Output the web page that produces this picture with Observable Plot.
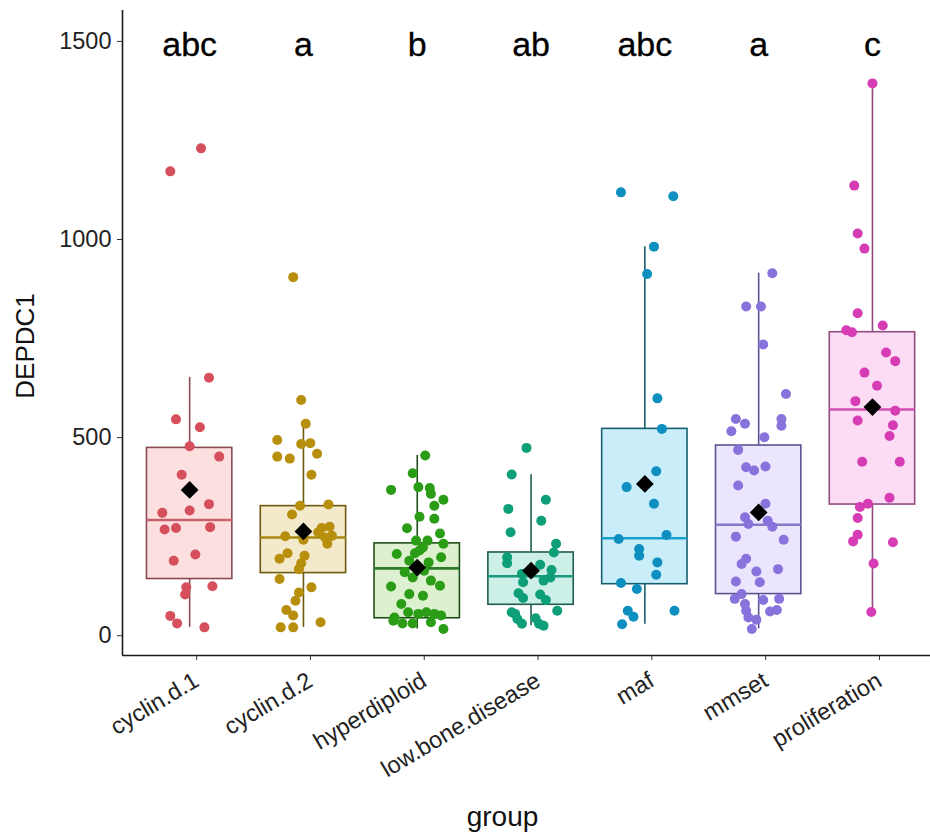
<!DOCTYPE html>
<html>
<head>
<meta charset="utf-8">
<script src="https://cdn.jsdelivr.net/npm/d3@7"></script>
<script src="https://cdn.jsdelivr.net/npm/@observablehq/plot@0.6"></script>
<style>
  html, body { margin: 0; padding: 0; background: #fff; }
  #chart { width: 930px; height: 839px; }
</style>
</head>
<body>
<div id="chart"></div>
<script>
const groups = ["cyclin.d.1", "cyclin.d.2", "hyperdiploid", "low.bone.disease", "maf", "mmset", "proliferation"];
const letters = ["abc", "a", "b", "ab", "abc", "a", "c"];
const yTicks = [0, 500, 1000, 1500];

// box statistics per group
const q1 = [143, 158, 44, 78, 130, 105, 331];
const median = [292, 248, 170, 150, 246, 280, 571];
const q3 = [474, 327, 233, 210, 522, 480, 766];
const whiskerLow = [21, 21, 17, 25, 29, 17, 60];
const whiskerHigh = [652, 535, 455, 406, 982, 915, 1394];
const means = [368, 263, 172, 164, 383, 311, 577];

const valuesCyclinD1 = [651, 546, 526, 478, 452, 406, 332, 316, 310, 268, 272, 274, 189, 205, 122, 104, 125, 50, 31, 21, 1172, 1230];
const jitterCyclinD1 = [0.17, -0.12, 0.09, 0, 0.26, -0.07, 0.17, 0, -0.24, -0.22, -0.12, 0.18, -0.14, 0.05, -0.03, -0.04, 0.2, -0.17, -0.11, 0.13, -0.17, 0.1];

const valuesCyclinD2 = [595, 535, 494, 484, 486, 459, 452, 447, 406, 328, 331, 306, 272, 275, 248, 232, 251, 242, 208, 194, 202, 183, 168, 143, 122, 109, 88, 65, 51, 34, 21, 21, 261, 252, 905];
const jitterCyclinD2 = [-0.02, 0.02, -0.23, -0.02, 0.06, 0.12, -0.23, -0.12, 0.07, -0.03, 0.22, -0.1, 0.16, 0.23, 0.19, 0.21, -0.16, 0, -0.14, -0.21, 0.01, -0.02, -0.04, -0.21, 0.07, -0.04, -0.07, -0.15, -0.09, 0.15, -0.2, -0.09, 0.13, 0.25, -0.09];

const valuesHyperdiploid = [455, 410, 368, 375, 373, 358, 343, 328, 295, 300, 271, 258, 232, 240, 240, 206, 215, 198, 189, 185, 160, 164, 139, 126, 124, 105, 101, 80, 59, 55, 59, 55, 51, 38, 31, 31, 34, 17, 46, 208, 223, 147];
const jitterHyperdiploid = [0.07, -0.04, -0.23, 0.01, 0.11, 0.12, 0.23, 0.15, 0.15, 0.02, -0.09, 0.2, 0.23, -0.01, 0.09, -0.18, 0.02, 0.21, -0.07, 0.1, -0.11, 0.06, 0.12, 0.2, -0.23, -0.07, 0.05, -0.14, -0.08, 0.01, 0.08, 0.15, 0.21, -0.21, -0.13, -0.04, 0.12, 0.23, -0.2, -0.02, 0.05, -0.04];

const valuesLowBone = [474, 407, 343, 320, 290, 261, 232, 210, 198, 183, 179, 166, 147, 156, 135, 139, 107, 95, 104, 90, 63, 59, 42, 30, 44, 30, 25, 55];
const jitterLowBone = [-0.04, -0.17, 0.13, -0.2, 0.09, -0.18, 0.22, 0.2, -0.21, -0.21, 0.08, 0.18, 0.17, -0.08, -0.07, 0.11, -0.11, -0.07, 0.08, 0.13, 0.23, -0.17, -0.12, -0.08, 0.04, 0.07, 0.11, -0.14];

const valuesMaf = [1119, 1109, 982, 913, 599, 522, 415, 375, 333, 244, 254, 219, 202, 185, 154, 133, 118, 63, 48, 63, 29];
const jitterMaf = [-0.21, 0.25, 0.08, 0.02, 0.11, 0.15, 0.1, -0.16, 0.08, -0.23, 0.19, -0.05, -0.05, 0.11, 0.1, -0.21, -0.07, -0.15, -0.1, 0.26, -0.2];

const valuesMmset = [915, 831, 831, 735, 610, 547, 535, 516, 547, 530, 501, 469, 425, 417, 427, 379, 333, 299, 282, 290, 275, 250, 242, 194, 181, 168, 162, 135, 137, 105, 93, 90, 93, 80, 63, 61, 65, 46, 40, 17];
const jitterMmset = [0.12, -0.11, 0.02, 0.04, 0.24, -0.2, -0.12, -0.24, 0.2, 0.2, 0.05, -0.18, -0.11, -0.04, 0.06, -0.18, 0.06, -0.12, -0.09, 0.08, 0.12, -0.2, 0.22, -0.11, -0.15, 0.17, -0.02, 0.01, -0.2, -0.15, -0.21, 0.04, 0.18, -0.12, -0.11, 0.1, 0.16, -0.09, -0.02, -0.06];

const valuesProliferation = [1394, 1136, 1015, 977, 814, 771, 766, 783, 715, 693, 664, 631, 592, 568, 543, 531, 504, 439, 439, 348, 333, 325, 297, 255, 238, 236, 182, 60];
const jitterProliferation = [0, -0.16, -0.13, -0.07, -0.13, -0.23, -0.18, 0.09, 0.12, 0.2, -0.07, 0.04, -0.15, 0.2, -0.13, 0.18, 0.15, -0.09, 0.24, 0.15, -0.04, -0.11, -0.13, -0.13, -0.17, 0.18, 0.01, -0.01];

const allValues = [valuesCyclinD1, valuesCyclinD2, valuesHyperdiploid, valuesLowBone, valuesMaf, valuesMmset, valuesProliferation];
const allJitter = [jitterCyclinD1, jitterCyclinD2, jitterHyperdiploid, jitterLowBone, jitterMaf, jitterMmset, jitterProliferation];

// styling
const pointColors = ["#d5505c", "#b78f0c", "#2a9c16", "#0e9e78", "#0e8fbf", "#8872dc", "#d63db5"];
const boxFills = ["#fbe0df", "#f3eacb", "#ddf0cf", "#ccf0e7", "#c9eef9", "#ebe6fd", "#fcdcf4"];
const boxStrokes = ["#8b4b52", "#6e5a0e", "#1f4f18", "#1f5e50", "#17606f", "#5d5290", "#8e4c80"];
const medianColors = ["#c8606c", "#a88a10", "#2e7a28", "#1a9a80", "#1aa0d0", "#8878c8", "#d050b0"];

const stats = groups.map((g, i) => ({
  i, group: g, q1: q1[i], median: median[i], q3: q3[i],
  lo: whiskerLow[i], hi: whiskerHigh[i], mean: means[i], letter: letters[i]
}));
const points = [];
allValues.forEach((vals, i) => vals.forEach((v, k) => points.push({i, group: groups[i], value: v, jit: allJitter[i][k]})));

const halfBox = 0.375;
const xMin = -0.59, xMax = 6.51, yMin = -50, yMax = 1578;
const font = "'Liberation Sans', Arial, Helvetica, sans-serif";

const marks = [];
stats.forEach((s) => {
  const d = [s];
  marks.push(
    Plot.ruleX(d, {x: "i", y1: "lo", y2: "q1", stroke: boxStrokes[s.i], strokeWidth: 1.6}),
    Plot.ruleX(d, {x: "i", y1: "q3", y2: "hi", stroke: boxStrokes[s.i], strokeWidth: 1.6}),
    Plot.rect(d, {x1: (r) => r.i - halfBox, x2: (r) => r.i + halfBox, y1: "q1", y2: "q3", fill: boxFills[s.i], stroke: boxStrokes[s.i], strokeWidth: 1.6}),
    Plot.ruleY(d, {y: "median", x1: (r) => r.i - halfBox, x2: (r) => r.i + halfBox, stroke: medianColors[s.i], strokeWidth: 2.6})
  );
});
groups.forEach((g, i) => {
  marks.push(Plot.dot(points.filter((p) => p.i === i), {x: (p) => p.i + p.jit, y: "value", r: 5, fill: pointColors[i], stroke: "none"}));
});
marks.push(
  Plot.dot(stats, {x: "i", y: "mean", symbol: d3.symbolDiamond2, r: 8, fill: "#000", stroke: "none"}),
  Plot.text(stats, {x: "i", y: () => 1490, text: "letter", fontSize: 34, fill: "#000", stroke: "#000", strokeWidth: 0.3, lineAnchor: "middle"}),
  Plot.ruleX([xMin], {stroke: "#1a1a1a", strokeWidth: 1.6}),
  Plot.ruleY([yMin], {stroke: "#1a1a1a", strokeWidth: 1.6}),
  Plot.axisY({ticks: yTicks, tickFormat: (d) => String(d), tickSize: 5, tickPadding: 6, fontSize: 23.5, label: null, stroke: "#333", fill: "#222"}),
  Plot.axisX({ticks: d3.range(groups.length), tickFormat: (i) => groups[i], tickRotate: -31, tickSize: 5, tickPadding: 18, dx: 7, fontSize: 23.5, label: null, stroke: "#333", fill: "#222"}),
  Plot.text(["DEPDC1"], {frameAnchor: "left", textAnchor: "middle", dx: -97, dy: 13, rotate: -90, fontSize: 26, fill: "#111"}),
  Plot.text(["group"], {frameAnchor: "bottom", textAnchor: "middle", dx: -24, dy: 170, fontSize: 28, fill: "#111"})
);

const chart = Plot.plot({
  width: 930,
  height: 839,
  marginLeft: 122,
  marginRight: 0,
  marginTop: 10,
  marginBottom: 184,
  style: {fontFamily: font, background: "#fff", overflow: "visible"},
  x: {domain: [xMin, xMax], axis: null},
  y: {domain: [yMin, yMax], axis: null},
  marks
});
document.getElementById("chart").appendChild(chart);
</script>
</body>
</html>
